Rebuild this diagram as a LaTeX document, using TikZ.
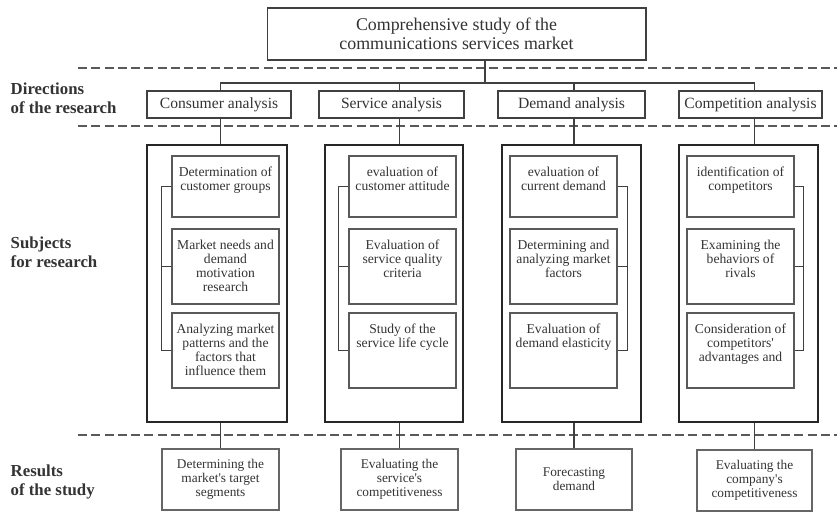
\documentclass[tikz,border=0pt]{standalone}
\usepackage{fontspec}
\setmainfont{Liberation Serif}[Ligatures=TeXOff]
\begin{document}
\begin{tikzpicture}[x=0.75pt,y=-0.75pt,
    every node/.style={text=black!80, font=\fontsize{10.2}{10.6}\selectfont},
    topbox/.style={draw=black!75, line width=1pt, minimum width=284pt, minimum height=39pt,
      align=center, font=\fontsize{13.4}{14.5}\selectfont},
    dirbox/.style={draw=black!75, line width=1pt, minimum height=20.25pt,
      font=\fontsize{11.7}{13}\selectfont},
    colbox/.style={draw=black!85, line width=1.8pt, minimum height=207.75pt},
    sub/.style={draw=black!65, line width=1.1pt, minimum width=80.25pt},
    subtxt/.style={anchor=north, align=center, yshift=-5pt},
    resbox/.style={draw=black!60, line width=0.9pt, minimum height=45.75pt, align=center,
      font=\fontsize{10}{10.6}\selectfont},
    band/.style={font=\bfseries\fontsize{12.6}{14}\selectfont, align=left, anchor=west},
    sep/.style={draw=black!65, line width=1.5pt, dash pattern=on 6.75pt off 3.2pt},
    link/.style={draw=black!75, line width=0.8pt}]
  \useasboundingbox (0,0) rectangle (837,511);
  % separators
  \draw[sep] (78,68) -- (837,68);
  \draw[sep] (78,126) -- (837,126);
  \draw[sep] (78,435) -- (837,435);
  % band titles
  \draw
    (6,98) node[band] (l1){Directions\\of the research}
    (6,252) node[band] (l2){Subjects\\for research}
    (6,482) node[band] (l3){Results\\of the study};
  % top and directions
  \draw
    (456.5,34) node[topbox] (top){Comprehensive study of the\\communications services market}
    (219,104.5) node[dirbox, minimum width=108pt] (d1){Consumer analysis}
    (391.5,104.5) node[dirbox, minimum width=108.75pt] (d2){Service analysis}
    (571.5,104.5) node[dirbox, minimum width=110.25pt] (d3){Demand analysis}
    (750.5,104.5) node[dirbox, minimum width=107.25pt] (d4){Competition analysis};
  \coordinate (hub) at (485,83);
  % subject columns
  \draw
    (217,283.5) node[colbox, minimum width=105pt] (c1){}
    (394,283.5) node[colbox, minimum width=103.5pt] (c2){}
    (571.5,283.5) node[colbox, minimum width=104.25pt] (c3){}
    (748.5,283.5) node[colbox, minimum width=104.25pt] (c4){};
  \draw
    (225.5,186.5) node[sub, minimum height=45.75pt, label={[subtxt]north:{Determination of\\customer groups}}] (s11){}
    (225.5,266.5) node[sub, minimum height=56.25pt, label={[subtxt]north:{Market needs and\\demand\\motivation\\research}}] (s12){}
    (225.5,350.5) node[sub, minimum height=56.25pt, label={[subtxt]north:{Analyzing market\\patterns and the\\factors that\\influence them}}] (s13){}
    (402.5,186.5) node[sub, minimum height=45.75pt, label={[subtxt]north:{evaluation of\\customer attitude}}] (s21){}
    (402.5,266.5) node[sub, minimum height=56.25pt, label={[subtxt]north:{Evaluation of\\service quality\\criteria}}] (s22){}
    (402.5,350.5) node[sub, minimum height=56.25pt, label={[subtxt]north:{Study of the\\service life cycle}}] (s23){}
    (563.5,186.5) node[sub, minimum height=45.75pt, label={[subtxt]north:{evaluation of\\current demand}}] (s31){}
    (563.5,266.5) node[sub, minimum height=56.25pt, label={[subtxt]north:{Determining and\\analyzing market\\factors}}] (s32){}
    (563.5,350.5) node[sub, minimum height=56.25pt, label={[subtxt]north:{Evaluation of\\demand elasticity}}] (s33){}
    (740.5,186.5) node[sub, minimum height=45.75pt, label={[subtxt]north:{identification of\\competitors}}] (s41){}
    (740.5,266.5) node[sub, minimum height=56.25pt, label={[subtxt]north:{Examining the\\behaviors of\\rivals}}] (s42){}
    (740.5,350.5) node[sub, minimum height=56.25pt, label={[subtxt]north:{Consideration of\\competitors'\\advantages and}}] (s43){};
  % results
  \draw
    (220.5,479.5) node[resbox, minimum width=87.75pt] (r1){Determining the\\market's target\\segments}
    (399.5,479.5) node[resbox, minimum width=87.75pt] (r2){Evaluating the\\service's\\competitiveness}
    (574,479.5) node[resbox, minimum width=87pt] (r3){Forecasting\\demand}
    (754.5,480.5) node[resbox, minimum width=86.25pt] (r4){Evaluating the\\company's\\competitiveness};
  \begin{scope}[link]
    \draw (top.south -| hub) -- (hub);
    \draw (d1.north -| r1) |- (hub) -| (d4.north -| r4);
    \draw (d2.north -| r2) -- (hub -| r2);
    \draw (d3.north -| r3) -- (hub -| r3);
    \draw (d1.south -| r1) -- (c1.north -| r1);
    \draw (d2.south -| r2) -- (c2.north -| r2);
    \draw (d3.south -| r3) -- (c3.north -| r3);
    \draw (d4.south -| r4) -- (c4.north -| r4);
    \draw (c1.south -| r1) -- (r1);
    \draw (c2.south -| r2) -- (r2);
    \draw (c3.south -| r3) -- (r3);
    \draw (c4.south -| r4) -- (r4);
    \draw (s11.west) -- ++(-10,0) |- (s13.west);
    \draw (s12.west) -- ++(-10,0);
    \draw (s21.west) -- ++(-10,0) |- (s23.west);
    \draw (s22.west) -- ++(-10,0);
    \draw (s31.east) -- ++(10,0) |- (s33.east);
    \draw (s32.east) -- ++(10,0);
    \draw (s41.east) -- ++(9,0) |- (s43.east);
    \draw (s42.east) -- ++(9,0);
  \end{scope}
\end{tikzpicture}
\end{document}
